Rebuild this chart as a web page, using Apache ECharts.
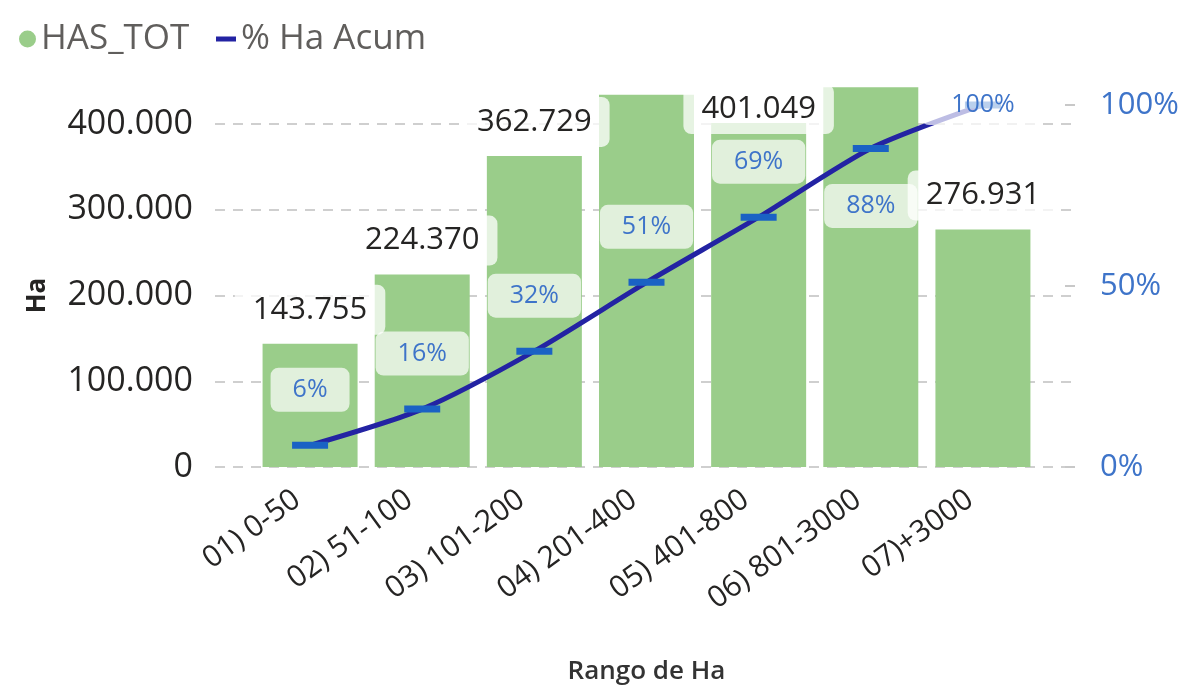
<!DOCTYPE html>
<html>
<head>
<meta charset="utf-8">
<script src="https://cdn.jsdelivr.net/npm/echarts@6/dist/echarts.min.js"></script>
<style>
  html, body { margin: 0; padding: 0; background: #fff; }
  #chart { width: 1192px; height: 688px; }
</style>
</head>
<body>
<div id="chart"></div>
<script>
var categories = ['01) 0-50', '02) 51-100', '03) 101-200', '04) 201-400', '05) 401-800', '06) 801-3000', '07)+3000']
var hasTot = [143755, 224370, 362729, 434000, 401049, 443000, 276931]
var haAcum = [6, 16, 32, 51, 69, 88, 100]
var leftTicks = [0, 100000, 200000, 300000, 400000]
var rightTicks = [0, 50, 100]

var FONT = 'Open Sans'
var green = '#9acd8a'
var navy = '#2323a3'
var blue = '#3e74c9'

function miles (v) {
  return String(v).replace(/\B(?=(\d{3})+(?!\d))/g, '.')
}

// bars whose label Power BI dropped, and the one pushed down under the top edge
var barData = hasTot.map(function (v, i) {
  var item = { value: v }
  if (i === 3 || i === 5) item.label = { show: false }
  if (i === 4) item.label = { offset: [0, 20] }
  return item
})

var lineData = haAcum.map(function (v, i) {
  var item = { value: v }
  if (i === 5) item.label = { position: 'bottom', distance: 32 }
  if (i === 6) item.label = { position: 'inside', padding: [8, 30] }
  return item
})

var chart = echarts.init(document.getElementById('chart'))

chart.setOption({
  backgroundColor: '#fff',
  textStyle: { fontFamily: FONT },
  animation: false,
  legend: [{
    data: ['HAS_TOT'],
    left: 14,
    top: 14,
    icon: 'circle',
    itemWidth: 17,
    itemHeight: 17,
    textStyle: { fontSize: 35, color: '#605e5c', fontFamily: FONT, lineHeight: 40 }
  }, {
    data: ['% Ha Acum'],
    left: 211,
    top: 14,
    icon: 'rect',
    itemWidth: 20,
    itemHeight: 5,
    itemStyle: { color: navy },
    textStyle: { fontSize: 35, color: '#605e5c', fontFamily: FONT, lineHeight: 40 }
  }],
  grid: [
    // gridlines + left labels
    { left: 215, right: 117, top: 124, bottom: 221, outerBoundsMode: 'none' },
    // short dashes + right labels
    { left: 1065, right: 117, top: 105, bottom: 221, outerBoundsMode: 'none' },
    // data
    { left: 254, right: 153, top: 80, bottom: 221, outerBoundsMode: 'none' }
  ],
  xAxis: [
    { gridIndex: 0, type: 'value', show: false },
    { gridIndex: 1, type: 'value', show: false },
    {
      gridIndex: 2,
      type: 'category',
      data: categories,
      axisLine: { show: false },
      axisTick: { show: false },
      axisLabel: {
        rotate: 36,
        margin: 20,
        padding: [0, 16, 0, 0],
        fontSize: 30,
        color: '#252423',
        fontFamily: FONT
      },
      name: 'Rango de Ha',
      nameLocation: 'middle',
      nameGap: 192,
      nameTextStyle: { fontSize: 26, color: '#333', fontWeight: 600, fontFamily: FONT }
    }
  ],
  yAxis: [
    {
      gridIndex: 0,
      type: 'value',
      min: leftTicks[0],
      max: leftTicks[leftTicks.length - 1],
      interval: 100000,
      axisLine: { show: false },
      axisTick: { show: false },
      axisLabel: {
        margin: 22,
        fontSize: 34,
        color: '#252423',
        fontFamily: FONT,
        formatter: function (v) { return miles(v) }
      },
      splitLine: { lineStyle: { color: '#cfcfcf', width: 2, type: [10, 8] } },
      name: 'Ha',
      nameLocation: 'middle',
      nameRotate: 90,
      nameGap: 164,
      nameTextStyle: { fontSize: 26, color: '#252423', fontWeight: 'bold', fontFamily: FONT }
    },
    {
      gridIndex: 1,
      type: 'value',
      position: 'right',
      min: rightTicks[0],
      max: rightTicks[rightTicks.length - 1],
      interval: 50,
      axisLine: { show: false },
      axisTick: { show: false },
      splitLine: { show: true, lineStyle: { color: '#c8c8c8', width: 2 } },
      axisLabel: {
        margin: 25,
        fontSize: 31,
        color: blue,
        fontFamily: FONT,
        formatter: '{value}%'
      }
    },
    { gridIndex: 2, type: 'value', min: 0, max: 451312, show: false, splitLine: { show: false } },
    { gridIndex: 2, type: 'value', min: 0, max: 106.9, show: false, splitLine: { show: false } }
  ],
  series: [
    {
      name: 'HAS_TOT',
      type: 'bar',
      xAxisIndex: 2,
      yAxisIndex: 2,
      barWidth: 95,
      itemStyle: { color: green },
      data: barData,
      label: {
        show: true,
        position: 'top',
        distance: 9,
        fontSize: 31,
        lineHeight: 30,
        color: '#252423',
        fontFamily: FONT,
        backgroundColor: 'rgba(255,255,255,0.75)',
        borderRadius: 8,
        padding: [10, 18],
        formatter: function (p) { return miles(p.value) }
      },
      z: 2
    },
    {
      name: '% Ha Acum',
      type: 'line',
      xAxisIndex: 2,
      yAxisIndex: 3,
      smooth: 0.25,
      symbol: 'rect',
      symbolSize: [36, 7],
      itemStyle: { color: '#1a62c4' },
      lineStyle: { color: navy, width: 5 },
      data: lineData,
      label: {
        show: true,
        position: 'top',
        distance: 30,
        fontSize: 25,
        lineHeight: 24,
        color: blue,
        fontFamily: FONT,
        backgroundColor: 'rgba(255,255,255,0.7)',
        borderRadius: 8,
        padding: [10, 22],
        formatter: function (p) { return Math.round(p.value) + '%' }
      },
      z: 5
    }
  ]
})
</script>
</body>
</html>
